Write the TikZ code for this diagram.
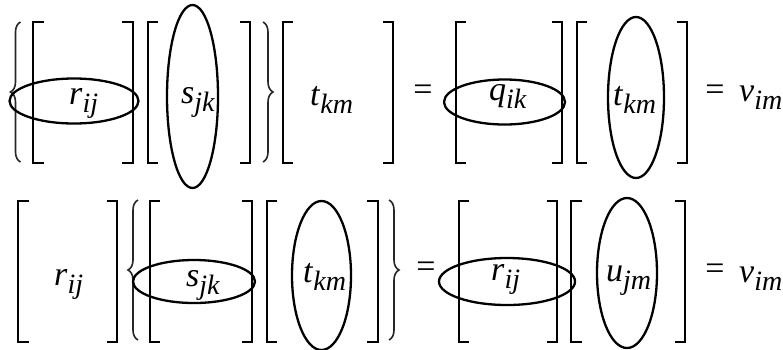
\documentclass[tikz,border=0pt]{standalone}
\usepackage{fontspec}
\setmainfont{Liberation Serif}[ItalicFont={Liberation Serif Italic}]
\usepackage{tikz}
\usetikzlibrary{shapes.geometric,decorations.pathreplacing}

\newcommand{\ent}[2]{\textit{#1}\raisebox{-8pt}{\fontsize{28}{28}\selectfont\textit{#2}}}

\begin{document}
\begin{tikzpicture}[x=1pt, y=-1pt,
  lbl/.style={font=\fontsize{34}{34}\selectfont, inner sep=0pt, anchor=base west},
  eqs/.style={font=\fontsize{34}{34}\selectfont, inner sep=0pt},
  ring/.style={ellipse, draw=black, line width=2.3pt, inner sep=0pt},
  brk/.style={draw=black, line width=2.6pt, line cap=butt, line join=miter},
  brc/.style={draw=black!85, line width=1.6pt, decorate, decoration={brace, amplitude=10pt}}
]
\useasboundingbox (0,0) rectangle (783,349);

% top row
\draw[brc] (20.5,162) -- (20.5,22);
\draw[brk] (44,22) -- (33,22) -- (33,163) -- (44,163);
\draw[brk] (122,22) -- (133,22) -- (133,163) -- (122,163);
\draw[brk] (158,22) -- (148,22) -- (148,163) -- (158,163);
\draw[brk] (240,22) -- (250,22) -- (250,163) -- (240,163);
\draw[brc] (263,22) -- (263,162);
\draw[brk] (293,22) -- (283,22) -- (283,163) -- (293,163);
\draw[brk] (383,22) -- (393,22) -- (393,163) -- (383,163);
\draw[brk] (466,22) -- (456,22) -- (456,163) -- (466,163);
\draw[brk] (552,22) -- (562,22) -- (562,163) -- (552,163);
\draw[brk] (587,22) -- (577,22) -- (577,163) -- (587,163);
\draw[brk] (677,22) -- (687,22) -- (687,163) -- (677,163);

\node[ring, minimum width=129, minimum height=45] (er1) at (74,101) {};
\node[ring, minimum width=51, minimum height=183] (es1) at (192.5,96.5) {};
\node[ring, minimum width=121, minimum height=45] (eq1) at (504.5,102) {};
\node[ring, minimum width=56, minimum height=161] (et1) at (636,97.5) {};

\node[lbl] (r1) at (69,104) {\ent{r}{ij}};
\node[lbl] (s1) at (181,103) {\ent{s}{jk}};
\node[lbl] (t1) at (310,105) {\ent{t}{km}};
\node[eqs] (eqa) at (423,93) {=};
\node[lbl] (q1) at (489,100) {\ent{q}{ik}};
\node[lbl] (t2) at (613,105) {\ent{t}{km}};
\node[eqs] (eqb) at (715,93) {=};
\node[lbl] (v1) at (739,101) {\ent{v}{im}};

% bottom row
\draw[brk] (29,201) -- (18,201) -- (18,342) -- (29,342);
\draw[brk] (107,201) -- (117,201) -- (117,342) -- (107,342);
\draw[brc] (138,340) -- (138,200);
\draw[brk] (160,201) -- (150,201) -- (150,342) -- (160,342);
\draw[brk] (242,201) -- (252,201) -- (252,342) -- (242,342);
\draw[brk] (277,201) -- (267,201) -- (267,342) -- (277,342);
\draw[brk] (367,201) -- (378,201) -- (378,342) -- (367,342);
\draw[brc] (389,200) -- (389,340);
\draw[brk] (469,201) -- (459,201) -- (459,342) -- (469,342);
\draw[brk] (547,201) -- (557,201) -- (557,342) -- (547,342);
\draw[brk] (582,201) -- (571,201) -- (571,342) -- (582,342);
\draw[brk] (675,201) -- (685,201) -- (685,342) -- (675,342);

\node[ring, minimum width=122, minimum height=43] (es2) at (194,281.5) {};
\node[ring, minimum width=59, minimum height=149] (et3) at (321.5,275.5) {};
\node[ring, minimum width=136, minimum height=47] (er3) at (507,281.5) {};
\node[ring, minimum width=60, minimum height=150] (eu2) at (627,273) {};

\node[lbl] (r2) at (54,285) {\ent{r}{ij}};
\node[lbl] (s2) at (186,286) {\ent{s}{jk}};
\node[lbl] (t3) at (303,282) {\ent{t}{km}};
\node[eqs] (eqc) at (426,270) {=};
\node[lbl] (r3) at (491,280) {\ent{r}{ij}};
\node[lbl] (u2) at (606,281) {\ent{u}{jm}};
\node[eqs] (eqd) at (715,272) {=};
\node[lbl] (v2) at (739,282) {\ent{v}{im}};

\end{tikzpicture}
\end{document}
